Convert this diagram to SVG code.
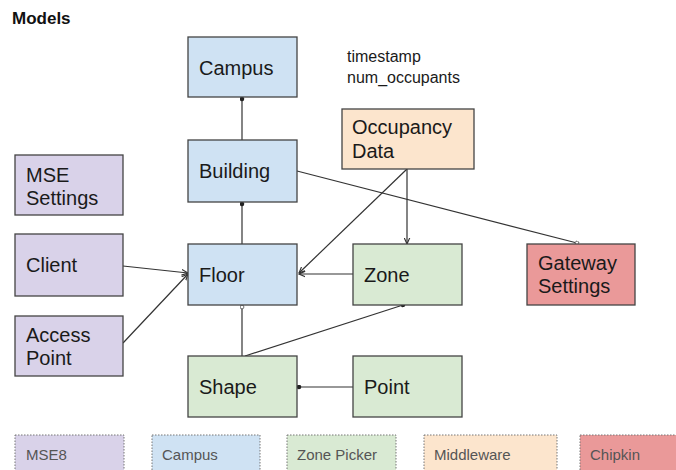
<svg xmlns="http://www.w3.org/2000/svg" width="676" height="470" viewBox="0 0 676 470">
<defs>
<style>
.n{stroke:#444;stroke-width:1.3}
.blue{fill:#cfe2f3}.purple{fill:#d9d2e9}.green{fill:#d9ead3}.orange{fill:#fce5cd}.red{fill:#ea9999}
.t{font-family:"Liberation Sans",Arial,sans-serif;font-size:20px;fill:#1a1a1a}
.lg{stroke:#777;stroke-width:1;stroke-dasharray:1.5 1.5}
.lt{font-family:"Liberation Sans",Arial,sans-serif;font-size:15px;fill:#555}
.c{fill:none;stroke:#333;stroke-width:1.2}
</style>
<marker id="arr" viewBox="0 0 10 10" refX="9" refY="5" markerWidth="7" markerHeight="7" orient="auto" markerUnits="userSpaceOnUse">
<path d="M0,1 L9,5 L0,9" fill="none" stroke="#333" stroke-width="1.6"/>
</marker>
<marker id="dot" viewBox="0 0 10 10" refX="5" refY="5" markerWidth="5" markerHeight="5" orient="auto" markerUnits="userSpaceOnUse">
<circle cx="5" cy="5" r="4.5" fill="#222"/>
</marker>
<marker id="odot" viewBox="0 0 10 10" refX="5" refY="5" markerWidth="5" markerHeight="5" orient="auto" markerUnits="userSpaceOnUse">
<circle cx="5" cy="5" r="3.8" fill="#fff" stroke="#333" stroke-width="1.4"/>
</marker>
</defs>
<rect width="676" height="470" fill="#fff"/>
<text x="12" y="24" font-family="'Liberation Sans',Arial,sans-serif" font-size="17" font-weight="bold" fill="#111">Models</text>
<text x="347" y="62" font-family="'Liberation Sans',Arial,sans-serif" font-size="16" fill="#1a1a1a">timestamp</text>
<text x="347" y="83" font-family="'Liberation Sans',Arial,sans-serif" font-size="16" fill="#1a1a1a">num_occupants</text>

<g id="connectors">
<line class="c" x1="242" y1="140" x2="242" y2="99" marker-end="url(#dot)"/>
<line class="c" x1="242" y1="244" x2="242" y2="204" marker-end="url(#dot)"/>
<line class="c" x1="297" y1="171" x2="577" y2="243" marker-end="url(#odot)"/>
<line class="c" x1="407" y1="169" x2="407" y2="244" marker-end="url(#arr)"/>
<line class="c" x1="407" y1="169" x2="299" y2="273" marker-end="url(#arr)"/>
<line class="c" x1="353" y1="274" x2="299" y2="274" marker-end="url(#arr)"/>
<line class="c" x1="123" y1="266" x2="188" y2="273" marker-end="url(#arr)"/>
<line class="c" x1="123" y1="343" x2="188" y2="274" marker-end="url(#arr)"/>
<line class="c" x1="242" y1="356" x2="242" y2="307" marker-end="url(#odot)"/>
<line class="c" x1="245" y1="356" x2="403" y2="305" marker-end="url(#dot)"/>
<line class="c" x1="353" y1="387" x2="299" y2="387" marker-end="url(#dot)"/>
</g>

<g id="campus"><rect class="n blue" x="188" y="37" width="109" height="60"/><text class="t" x="199" y="75">Campus</text></g>
<g id="building"><rect class="n blue" x="188" y="140" width="109" height="62"/><text class="t" x="199" y="178">Building</text></g>
<g id="floor"><rect class="n blue" x="188" y="244" width="109" height="61"/><text class="t" x="199" y="282">Floor</text></g>
<g id="occupancy"><rect class="n orange" x="342" y="109" width="132" height="60"/><text class="t" x="352" y="134">Occupancy</text><text class="t" x="352" y="158">Data</text></g>
<g id="zone"><rect class="n green" x="353" y="244" width="109" height="61"/><text class="t" x="364" y="282">Zone</text></g>
<g id="gateway"><rect class="n red" x="527" y="244" width="108" height="61"/><text class="t" x="538" y="270">Gateway</text><text class="t" x="538" y="293">Settings</text></g>
<g id="mse"><rect class="n purple" x="15" y="155" width="108" height="60"/><text class="t" x="26" y="182">MSE</text><text class="t" x="26" y="205">Settings</text></g>
<g id="client"><rect class="n purple" x="15" y="234" width="108" height="62"/><text class="t" x="26" y="272">Client</text></g>
<g id="accesspoint"><rect class="n purple" x="15" y="316" width="108" height="60"/><text class="t" x="26" y="342">Access</text><text class="t" x="26" y="365">Point</text></g>
<g id="shape"><rect class="n green" x="188" y="356" width="109" height="61"/><text class="t" x="199" y="394">Shape</text></g>
<g id="point"><rect class="n green" x="353" y="356" width="109" height="61"/><text class="t" x="364" y="394">Point</text></g>

<g id="legend">
<rect class="lg purple" x="15" y="435" width="109" height="40"/><text class="lt" x="26" y="460">MSE8</text>
<rect class="lg blue" x="152" y="435" width="108" height="40"/><text class="lt" x="162" y="460">Campus</text>
<rect class="lg green" x="287" y="435" width="109" height="40"/><text class="lt" x="297" y="460">Zone Picker</text>
<rect class="lg orange" x="424" y="435" width="133" height="40"/><text class="lt" x="434" y="460">Middleware</text>
<rect class="lg red" x="580" y="435" width="108" height="40"/><text class="lt" x="590" y="460">Chipkin</text>
</g>
</svg>
